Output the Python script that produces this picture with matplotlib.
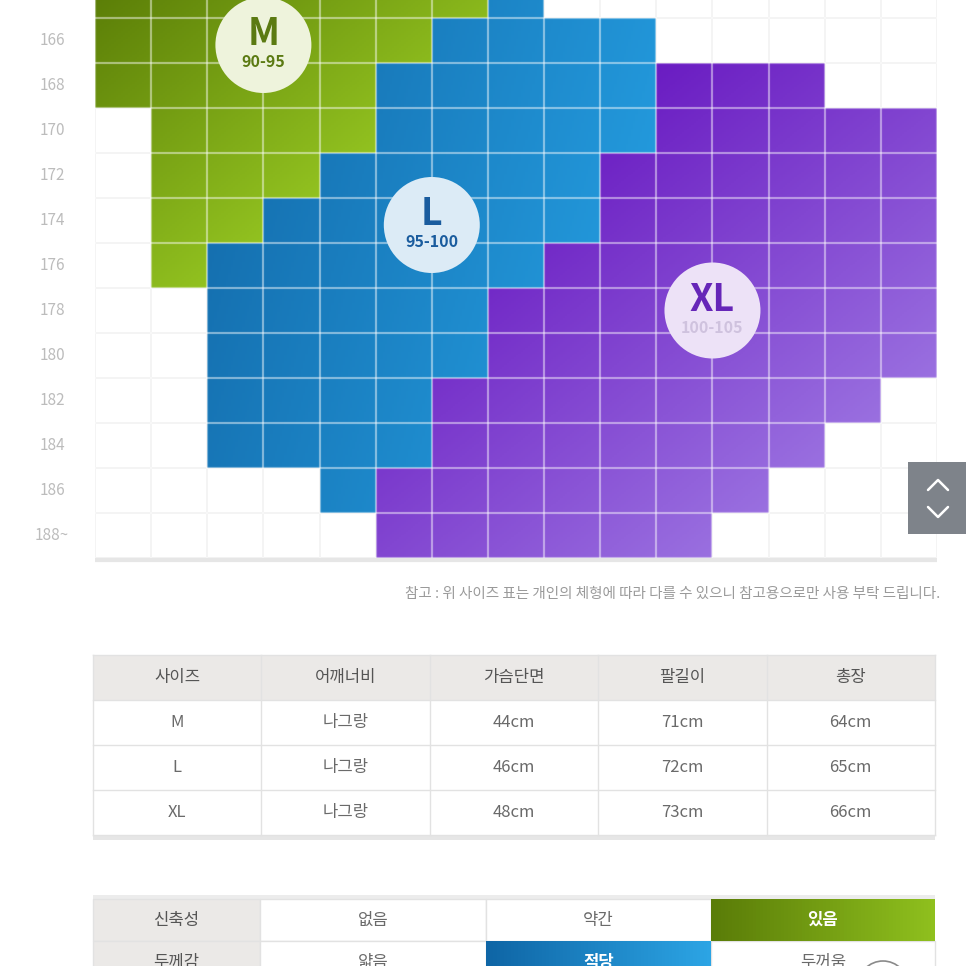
import numpy as np
import matplotlib
matplotlib.use('Agg')
import matplotlib.pyplot as plt
from matplotlib.patches import Rectangle, Circle
from matplotlib.colors import to_rgb
from matplotlib.transforms import blended_transform_factory

plt.rcParams['font.family'] = ['Noto Sans CJK KR', 'DejaVu Sans']

# ---------------- data ----------------
heights = ['164', '166', '168', '170', '172', '174', '176', '178', '180', '182', '184', '186', '188~']
n_cols = 15
# (start col, end col exclusive) of each size per height row
m_ranges = [(0, 7), (0, 6), (0, 5), (1, 5), (1, 4), (1, 3), (1, 2), None, None, None, None, None, None]
l_ranges = [(7, 8), (6, 10), (5, 10), (5, 10), (4, 9), (3, 9), (2, 8), (2, 7), (2, 7), (2, 6), (2, 6), (4, 5), None]
xl_ranges = [None, None, (10, 13), (10, 15), (9, 15), (9, 15), (8, 15), (7, 15), (7, 15), (6, 14), (6, 13), (5, 12), (5, 11)]

size_names = ['M', 'L', 'XL']
size_chest = ['90-95', '95-100', '100-105']

note = '참고 : 위 사이즈 표는 개인의 체형에 따라 다를 수 있으니 참고용으로만 사용 부탁 드립니다.'

tbl_header = ['사이즈', '어깨너비', '가슴단면', '팔길이', '총장']
tbl_rows = [['M', '나그랑', '44cm', '71cm', '64cm'],
            ['L', '나그랑', '46cm', '72cm', '65cm'],
            ['XL', '나그랑', '48cm', '73cm', '66cm']]

attr_names = ['신축성', '두께감']
attr_options = [['없음', '약간', '있음'], ['얇음', '적당', '두꺼움']]
attr_selected = [2, 1]

# ---------------- style ----------------
palettes = {'M': ('#587a06', '#92c220'), 'L': ('#1570b0', '#2399dc'), 'XL': ('#6a1cc2', '#9a70e0')}
grad_dir = {'M': (1.0, 1.0), 'L': (1.0, 0.25), 'XL': (1.0, 1.0)}
bubble_face = {'M': '#eef3dc', 'L': '#dcebf6', 'XL': '#ede2f7'}
bubble_text = {'M': '#5b7a12', 'L': '#1a5c9e', 'XL': '#6626b8'}
bubble_sub = {'M': '#5b7a12', 'L': '#1a5c9e', 'XL': '#cfc2de'}
bubble_pos = {'M': (3.0, 1.6), 'L': (6.0, 5.6), 'XL': (11.0, 7.5)}

W = 966
fig = plt.figure(figsize=(9.66, 9.66), dpi=100)
fig.patch.set_facecolor('white')
bg = fig.add_axes([0, 0, 1, 1])
bg.set_xlim(0, W)
bg.set_ylim(W, 0)
bg.axis('off')

# ---------------- grid chart ----------------
ax = fig.add_axes([95 / W, 1 - 558 / W, 842 / W, 558 / W])
nH = len(heights)
ax.set_xlim(0, n_cols)
ax.set_ylim(nH, 0.6)
ax.axis('off')

# faint grid for empty cells
ax.vlines(np.arange(n_cols + 1), 0, nH, color='#e9e9e9', lw=1.3, zorder=1)
ax.hlines(np.arange(nH + 1), 0, n_cols, color='#e9e9e9', lw=1.3, zorder=1)

sub = 24
img = np.zeros((nH * sub, n_cols * sub, 4))
yy, xx = np.mgrid[0:nH * sub, 0:n_cols * sub]
xs = (xx + 0.5) / sub
ys = (yy + 0.5) / sub
for name, ranges in zip(size_names, [m_ranges, l_ranges, xl_ranges]):
    mask = np.zeros((nH, n_cols), bool)
    for r, rg in enumerate(ranges):
        if rg:
            mask[r, rg[0]:rg[1]] = True
    big = np.kron(mask, np.ones((sub, sub))).astype(bool)
    dx, dy = grad_dir[name]
    proj = xs * dx + ys * dy
    lo, hi = proj[big].min(), proj[big].max()
    t = np.clip((proj - lo) / (hi - lo), 0, 1)
    c0 = np.array(to_rgb(palettes[name][0]))
    c1 = np.array(to_rgb(palettes[name][1]))
    col = c0 + (c1 - c0) * t[..., None]
    img[big, :3] = col[big]
    img[big, 3] = 1.0
ax.imshow(img, extent=(0, n_cols, nH, 0), aspect='auto', interpolation='nearest', zorder=2)

# light separators over colored cells
ax.vlines(np.arange(n_cols + 1), 0, nH, color='white', lw=1.6, alpha=0.45, zorder=3)
ax.hlines(np.arange(nH + 1), 0, n_cols, color='white', lw=1.6, alpha=0.45, zorder=3)

# bottom rule
ax.hlines(nH + 0.04, 0, n_cols, color='#e6e6e6', lw=3.0, zorder=4, clip_on=False)

# height labels
lab_tr = blended_transform_factory(ax.transAxes, ax.transData)
for r, h in enumerate(heights):
    ax.text(-0.051, r + 0.5, h, transform=lab_tr, ha='center', va='center',
            fontsize=11, color='#bcbcbc', clip_on=False)

# size bubbles
for name, chest in zip(size_names, size_chest):
    cx, cy = bubble_pos[name]
    ax.scatter([cx], [cy], s=(2 * 48 * 0.72) ** 2, color=bubble_face[name], edgecolors='none', zorder=5)
    ax.annotate(name, (cx, cy), xytext=(0, 8), textcoords='offset points', ha='center', va='center',
                fontsize=27, fontweight='bold', color=bubble_text[name], zorder=6)
    ax.annotate(chest, (cx, cy), xytext=(0, -12.5), textcoords='offset points', ha='center', va='center',
                fontsize=11.5, fontweight='bold', color=bubble_sub[name], zorder=6)

# note
bg.text(940, 594, note, ha='right', va='center', fontsize=10.5, color='#9a9a9a')

# ---------------- size table ----------------
tx = np.linspace(93, 935, len(tbl_header) + 1)
ty = [655, 700, 745, 790, 835]
bg.add_patch(Rectangle((93, 835), 842, 5, color='#e6e6e6', lw=0))
bg.add_patch(Rectangle((93, ty[0]), 842, ty[1] - ty[0], facecolor='#ebe9e7', edgecolor='none'))
for k in range(len(tx)):
    bg.plot([tx[k], tx[k]], [ty[0], ty[-1]], color='#e2e2e2', lw=1)
for k in range(len(ty)):
    bg.plot([93, 935], [ty[k], ty[k]], color='#e2e2e2', lw=1)
for c, hname in enumerate(tbl_header):
    bg.text((tx[c] + tx[c + 1]) / 2, (ty[0] + ty[1]) / 2, hname, ha='center', va='center',
            fontsize=12, color='#555555')
for r, row in enumerate(tbl_rows):
    for c, val in enumerate(row):
        bg.text((tx[c] + tx[c + 1]) / 2, (ty[r + 1] + ty[r + 2]) / 2, val, ha='center', va='center',
                fontsize=12, color='#6a6a6a')

# ---------------- attribute table ----------------
ax2 = [93, 260, 486, 711, 935]
ay2 = [899, 941, 983]
bg.add_patch(Rectangle((93, 895), 842, 4, color='#ececec', lw=0))
sel_grad = [('#5a7c08', '#8fc01e'), ('#0f66a6', '#2ca4e4')]
for r, aname in enumerate(attr_names):
    y0, y1 = ay2[r], ay2[r + 1]
    bg.add_patch(Rectangle((ax2[0], y0), ax2[1] - ax2[0], y1 - y0, facecolor='#ebe9e7', edgecolor='#e2e2e2', lw=1))
    bg.text((ax2[0] + ax2[1]) / 2, (y0 + y1) / 2, aname, ha='center', va='center', fontsize=12, color='#555555')
    for c, opt in enumerate(attr_options[r]):
        x0, x1 = ax2[c + 1], ax2[c + 2]
        if c == attr_selected[r]:
            g0 = np.array(to_rgb(sel_grad[r][0]))
            g1 = np.array(to_rgb(sel_grad[r][1]))
            grad = g0 + (g1 - g0) * np.linspace(0, 1, 64)[None, :, None]
            bg.imshow(grad, extent=(x0, x1, y1, y0), aspect='auto', zorder=2)
            bg.text((x0 + x1) / 2, (y0 + y1) / 2, opt, ha='center', va='center', fontsize=12,
                    fontweight='bold', color='white', zorder=3)
        else:
            bg.add_patch(Rectangle((x0, y0), x1 - x0, y1 - y0, facecolor='white', edgecolor='#e2e2e2', lw=1))
            bg.text((x0 + x1) / 2, (y0 + y1) / 2, opt, ha='center', va='center', fontsize=12, color='#6a6a6a')
bg.add_patch(Circle((883, 986), 25, facecolor='none', edgecolor='#8a8a8a', lw=1.2, zorder=4))
bg.set_xlim(0, W)
bg.set_ylim(W, 0)

# ---------------- scroll button (overlay) ----------------
top = fig.add_axes([0, 0, 1, 1])
top.set_xlim(0, W)
top.set_ylim(W, 0)
top.axis('off')
top.patch.set_alpha(0)
top.add_patch(Rectangle((908, 462), 60, 72, facecolor='#7e838a', edgecolor='none', zorder=7))
top.plot([928, 938, 948], [490, 480, 490], color='white', lw=1.8, zorder=8, solid_capstyle='round')
top.plot([928, 938, 948], [507, 517, 507], color='white', lw=1.8, zorder=8, solid_capstyle='round')

fig.savefig('out.png', dpi=100, facecolor='white')
